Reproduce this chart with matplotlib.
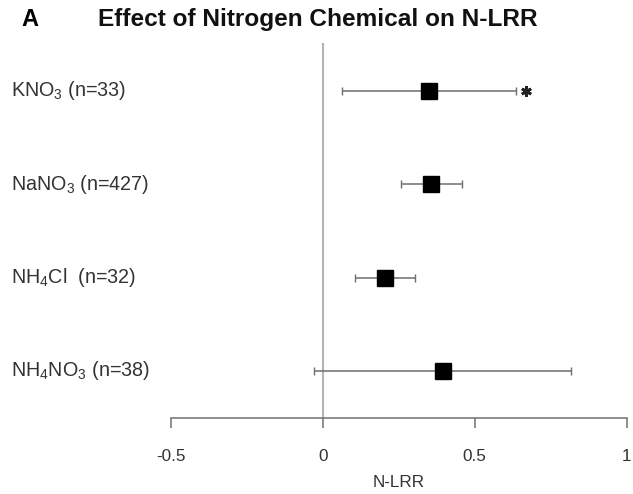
import numpy as np
import matplotlib
matplotlib.use("Agg")
import matplotlib.pyplot as plt
from matplotlib import transforms

plt.rcParams['font.family'] = ['Liberation Sans', 'DejaVu Sans']
plt.rcParams['mathtext.fontset'] = 'custom'
plt.rcParams['mathtext.rm'] = 'Liberation Sans'
plt.rcParams['mathtext.it'] = 'Liberation Sans'

# N-LRR effect sizes with 95% CI, top row first
labels = ['KNO$_{3}$ (n=33)', 'NaNO$_{3}$ (n=427)', 'NH$_{4}$Cl  (n=32)', 'NH$_{4}$NO$_{3}$ (n=38)']
means = [0.349, 0.355, 0.204, 0.395]
ci_lo = [0.064, 0.259, 0.105, -0.030]
ci_hi = [0.635, 0.457, 0.305, 0.818]
signif = [True, False, False, False]

xticks = [-0.5, 0, 0.5, 1]
xtick_labels = ['-0.5', '0', '0.5', '1']

W, H = 633, 494
fig = plt.figure(figsize=(W / 100, H / 100), dpi=100)
ax = fig.add_axes([170.7 / W, 1 - 418 / H, (626.7 - 170.7) / W, (418 - 43) / H])

ypos = np.arange(len(labels), 0, -1)
means = np.array(means)
err = np.array([means - np.array(ci_lo), np.array(ci_hi) - means])

ax.axvline(0, color='#b4b4b4', lw=1.5, zorder=1)
ax.errorbar(means, ypos, xerr=err, fmt='none', ecolor='#6e6e6e', elinewidth=1.1,
            capsize=3.2, capthick=1.0, zorder=2)
ax.plot(means, ypos, 's', color='black', markersize=11.3, zorder=3)

for y, hi, s in zip(ypos, ci_hi, signif):
    if s:
        ax.plot(hi + 0.035, y, marker=(6, 2, 0), color='#222222', markersize=7.5,
                markeredgewidth=2.0, zorder=3)

ax.set_xlim(-0.5, 1)
ax.set_ylim(0.496, 4.514)
ax.set_yticks([])
for side in ['left', 'top', 'right']:
    ax.spines[side].set_visible(False)
ax.spines['bottom'].set_color('#707070')
ax.spines['bottom'].set_linewidth(1.1)
ax.set_xticks(xticks)
ax.set_xticklabels(xtick_labels)
ax.tick_params(axis='x', direction='out', length=7.5, width=1.1, color='#707070',
               labelsize=12.3, labelcolor='#333333', pad=15)
ax.set_xlabel('N-LRR', fontsize=12.3, color='#333333', labelpad=8)

# row labels, left aligned near the figure edge
trans = transforms.blended_transform_factory(fig.transFigure, ax.transData)
for y, lab in zip(ypos, labels):
    ax.text(10.7 / W, y, lab, transform=trans, ha='left', va='center',
            fontsize=14.2, color='#333333', clip_on=False)

fig.text(21 / W, 1 - 26 / H, 'A', fontsize=17, fontweight='bold', ha='left', va='baseline')
fig.text(98 / W, 1 - 26 / H, 'Effect of Nitrogen Chemical on N-LRR', fontsize=17.6,
         fontweight='bold', ha='left', va='baseline', color='#111111')

fig.savefig('out.png', dpi=100, facecolor='white')
